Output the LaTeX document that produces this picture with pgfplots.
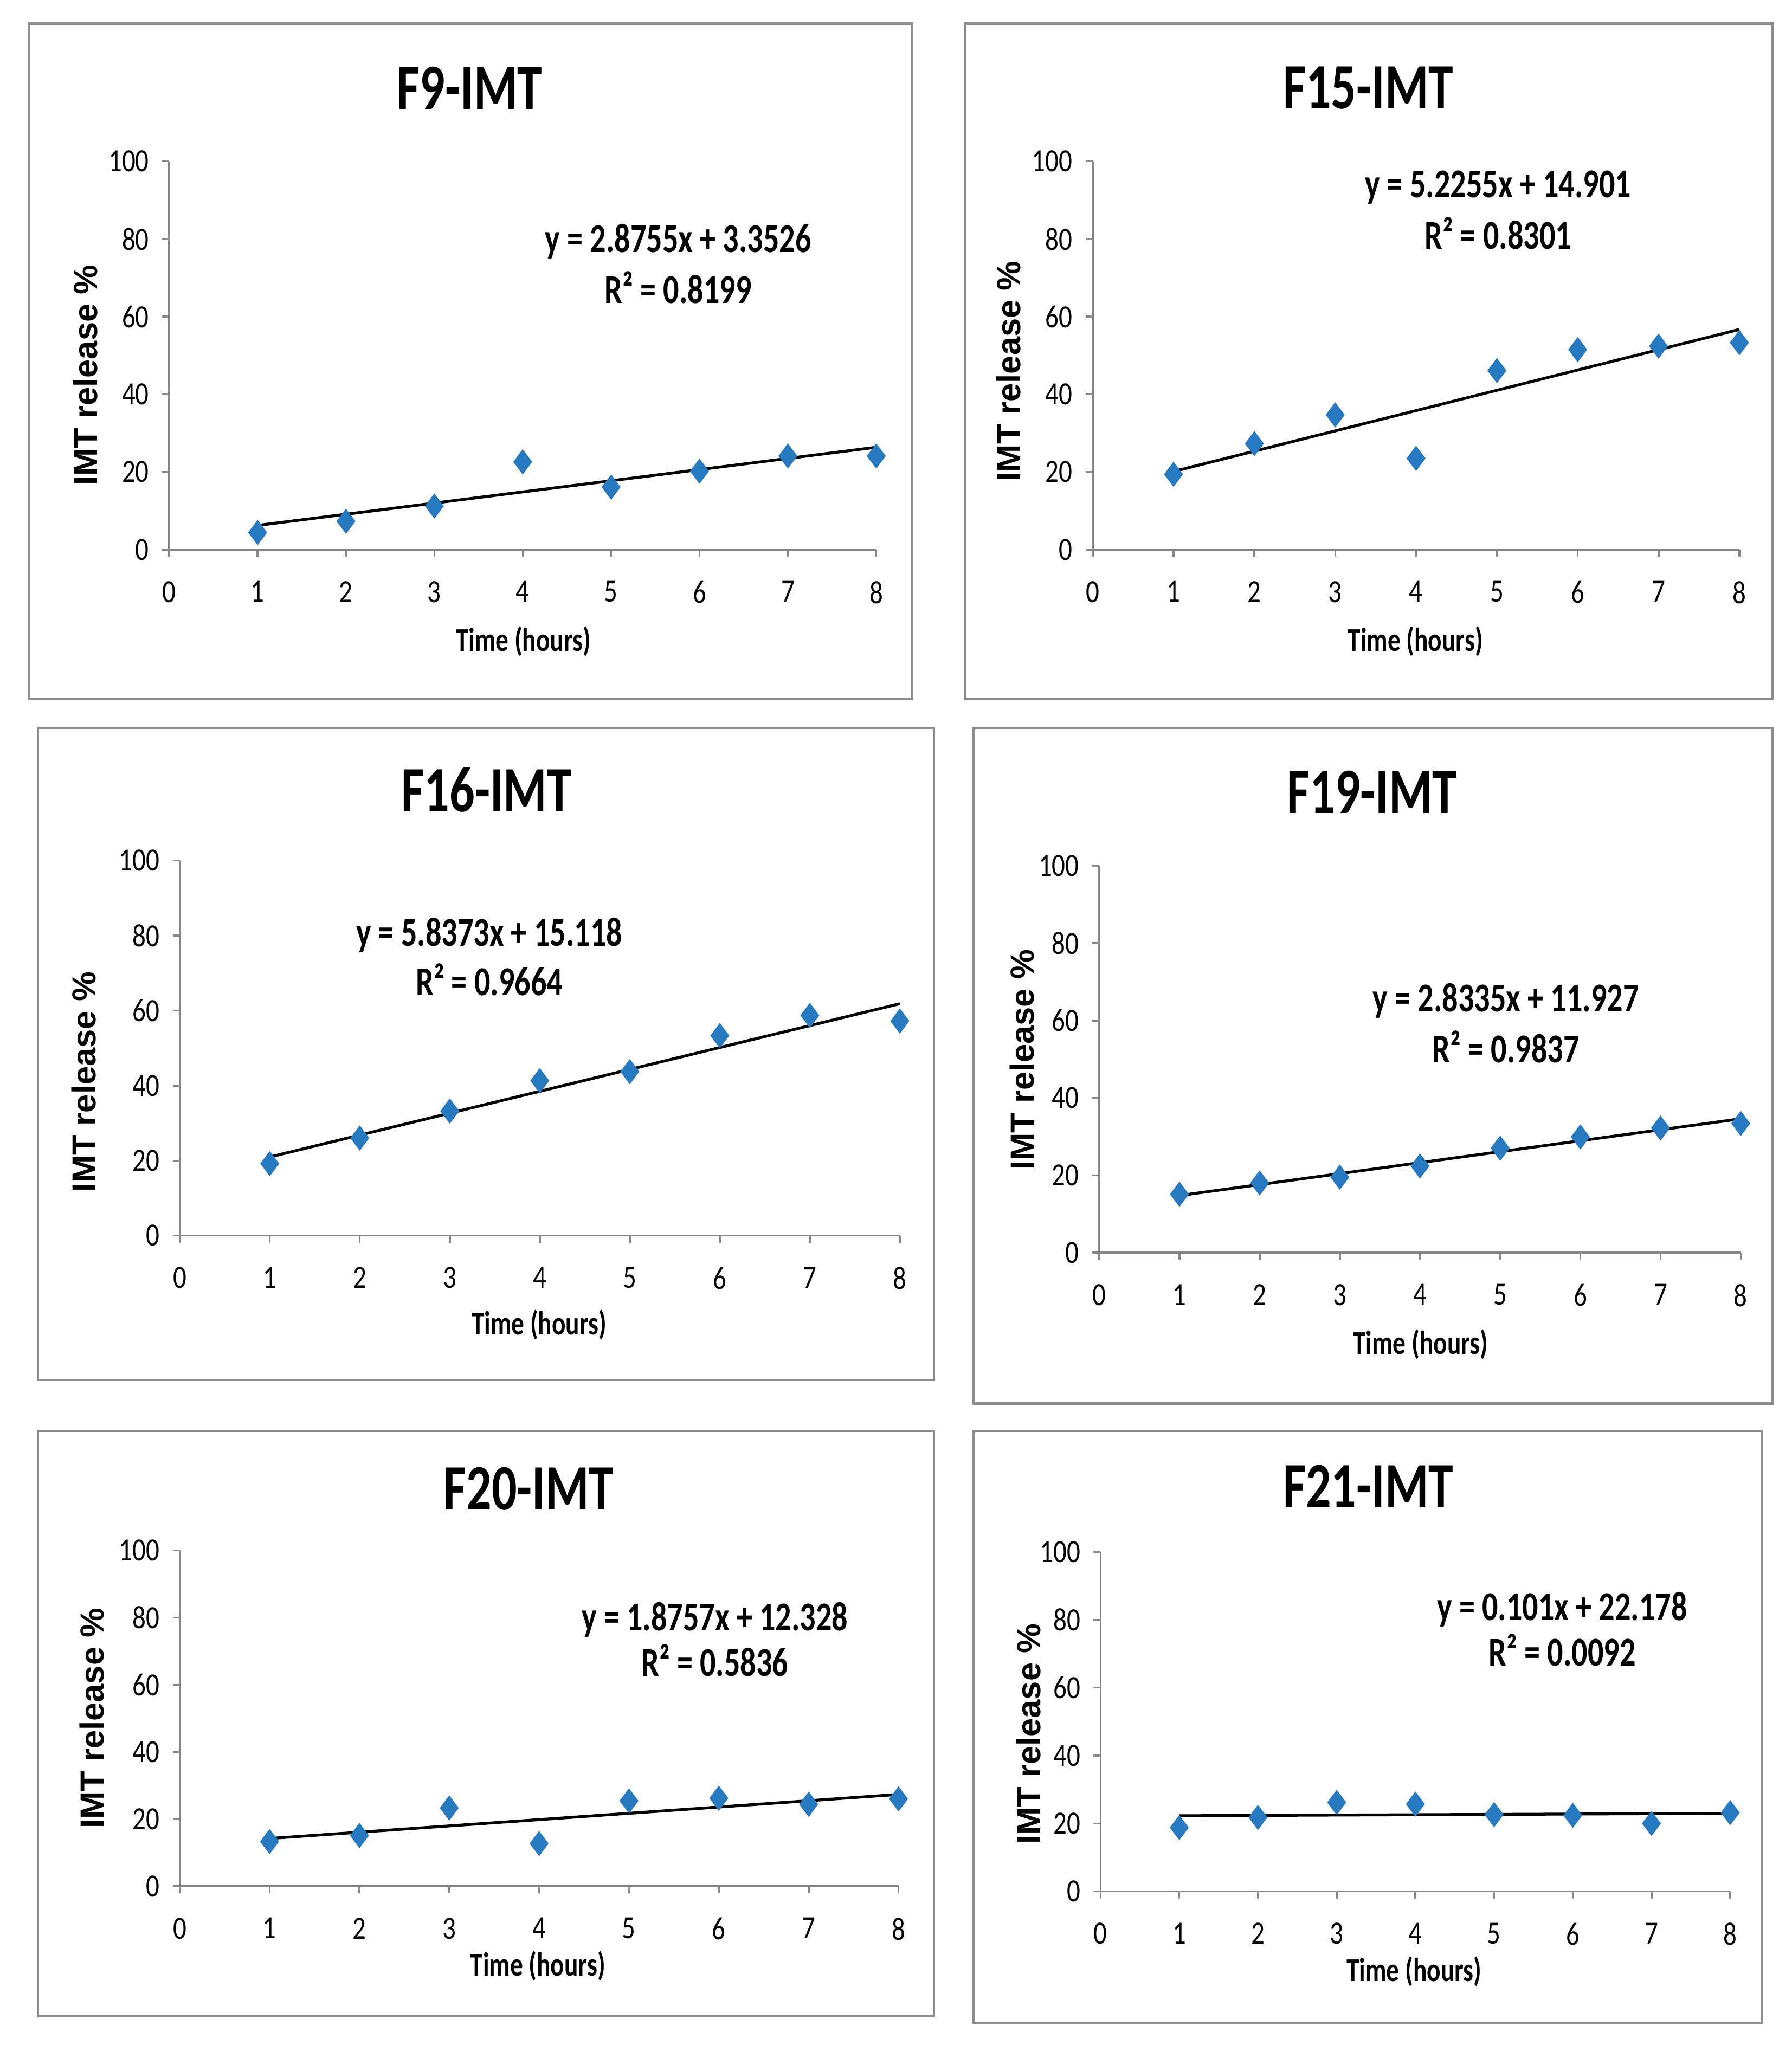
\documentclass[border=0pt]{standalone}
\usepackage{pgfplots}
\pgfplotsset{compat=1.18}
\usepackage{fontspec}
\setmainfont{Carlito}
\newfontfamily\tickfont[FakeStretch=0.82]{Carlito}
\newfontfamily\narrowfont[FakeStretch=0.77]{Carlito}
\newfontfamily\arialfont{Liberation Sans}
\definecolor{markblue}{RGB}{40,122,192}
\definecolor{axisgray}{RGB}{134,134,134}
\definecolor{framegray}{RGB}{140,140,140}
\newcommand\U{0.0242cm}

\pgfplotsset{
  imt/.style={
    scale only axis, anchor=south west,
    axis lines=left, axis line style={-, draw=axisgray, line width=1pt},
    xmin=0, xmax=8, ymin=0, ymax=100, enlargelimits=false,
    xtick={0,1,...,8}, ytick={0,20,...,100},
    tick style={draw=axisgray, line width=1pt},
    tick align=outside, major tick length=0.13cm,
    /pgf/number format/assume math mode=true,
    ticklabel style={font=\tickfont\fontsize{17}{18}\selectfont, text=black},
    xticklabel style={yshift=-0.33cm}, yticklabel style={xshift=-0.12cm},
    clip=false,
  },
  pts/.style={only marks, mark=diamond*, mark size=6.3pt, color=markblue},
  trend/.style={black, line width=1.5pt},
}
\tikzset{
  ttl/.style={font=\narrowfont\bfseries\fontsize{34}{34}\selectfont},
  eqn/.style={font=\narrowfont\bfseries\fontsize{21.5}{22}\selectfont},
  xlab/.style={font=\narrowfont\bfseries\fontsize{17.5}{18}\selectfont},
  ylab/.style={rotate=90, font=\arialfont\bfseries\fontsize{17.5}{18}\selectfont},
  frame/.style={draw=framegray, line width=1.2pt},
}

\begin{document}
\begin{tikzpicture}
\useasboundingbox (0,0) rectangle ({1366*\U},{-1569*\U});

% ---------- F9-IMT ----------
\draw[frame] ({22*\U},{-18*\U}) rectangle ({695*\U},{-533*\U});
\begin{axis}[imt, at={({129*\U},{-419*\U})}, width={539*\U}, height={296*\U}]
\addplot[pts] coordinates {(1,4.4) (2,7.3) (3,11.2) (4,22.6) (5,16.1) (6,20.2) (7,24.1) (8,24.1)};
\addplot[trend] coordinates {(1,6.2281) (8,26.3566)};
\end{axis}
\node[ttl] at ({358*\U},{-67*\U}) {F9-IMT};
\node[eqn] at ({517*\U},{-184*\U}) {y = 2.8755x + 3.3526};
\node[eqn] at ({517*\U},{-219*\U}) {R² = 0.8199};
\node[xlab] at ({399*\U},{-489*\U}) {Time (hours)};
\node[ylab] at ({65*\U},{-286*\U}) {IMT release \%};

% ---------- F15-IMT ----------
\draw[frame] ({736*\U},{-18*\U}) rectangle ({1351*\U},{-533*\U});
\begin{axis}[imt, at={({833*\U},{-419*\U})}, width={493*\U}, height={296*\U}]
\addplot[pts] coordinates {(1,19.4) (2,27.3) (3,34.7) (4,23.5) (5,46.1) (6,51.5) (7,52.4) (8,53.3)};
\addplot[trend] coordinates {(1,20.1265) (8,56.705)};
\end{axis}
\node[ttl] at ({1043*\U},{-67*\U}) {F15-IMT};
\node[eqn] at ({1142*\U},{-143*\U}) {y = 5.2255x + 14.901};
\node[eqn] at ({1142*\U},{-178*\U}) {R² = 0.8301};
\node[xlab] at ({1079*\U},{-489*\U}) {Time (hours)};
\node[ylab] at ({769*\U},{-283*\U}) {IMT release \%};

% ---------- F16-IMT ----------
\draw[frame] ({29*\U},{-555*\U}) rectangle ({712*\U},{-1052*\U});
\begin{axis}[imt, at={({137*\U},{-942*\U})}, width={549*\U}, height={286*\U}]
\addplot[pts] coordinates {(1,19.2) (2,26.0) (3,33.2) (4,41.3) (5,43.7) (6,53.3) (7,58.7) (8,57.2)};
\addplot[trend] coordinates {(1,20.9553) (8,61.8164)};
\end{axis}
\node[ttl] at ({371*\U},{-602*\U}) {F16-IMT};
\node[eqn] at ({373*\U},{-713*\U}) {y = 5.8373x + 15.118};
\node[eqn] at ({373*\U},{-747*\U}) {R² = 0.9664};
\node[xlab] at ({411*\U},{-1010*\U}) {Time (hours)};
\node[ylab] at ({64*\U},{-825*\U}) {IMT release \%};

% ---------- F19-IMT ----------
\draw[frame] ({742*\U},{-555*\U}) rectangle ({1351*\U},{-1070*\U});
\begin{axis}[imt, at={({838*\U},{-955*\U})}, width={489*\U}, height={295*\U}]
\addplot[pts] coordinates {(1,15.1) (2,18.0) (3,19.5) (4,22.4) (5,27.0) (6,29.9) (7,32.2) (8,33.4)};
\addplot[trend] coordinates {(1,14.7605) (8,34.595)};
\end{axis}
\node[ttl] at ({1046*\U},{-604*\U}) {F19-IMT};
\node[eqn] at ({1148*\U},{-763*\U}) {y = 2.8335x + 11.927};
\node[eqn] at ({1148*\U},{-798*\U}) {R² = 0.9837};
\node[xlab] at ({1083*\U},{-1025*\U}) {Time (hours)};
\node[ylab] at ({779*\U},{-808*\U}) {IMT release \%};

% ---------- F20-IMT ----------
\draw[frame] ({29*\U},{-1091*\U}) rectangle ({712*\U},{-1537*\U});
\begin{axis}[imt, at={({137*\U},{-1438*\U})}, width={548*\U}, height={256*\U}]
\addplot[pts] coordinates {(1,13.3) (2,15.1) (3,23.3) (4,12.7) (5,25.4) (6,26.2) (7,24.4) (8,26.0)};
\addplot[trend] coordinates {(1,14.2037) (8,27.3336)};
\end{axis}
\node[ttl] at ({403*\U},{-1135*\U}) {F20-IMT};
\node[eqn] at ({545*\U},{-1235*\U}) {y = 1.8757x + 12.328};
\node[eqn] at ({545*\U},{-1266*\U}) {R² = 0.5836};
\node[xlab] at ({410*\U},{-1499*\U}) {Time (hours)};
\node[ylab] at ({70*\U},{-1310*\U}) {IMT release \%};

% ---------- F21-IMT ----------
\draw[frame] ({742*\U},{-1091*\U}) rectangle ({1343*\U},{-1542*\U});
\begin{axis}[imt, at={({839*\U},{-1442*\U})}, width={480*\U}, height={259*\U}]
\addplot[pts] coordinates {(1,18.8) (2,21.8) (3,26.2) (4,25.7) (5,22.6) (6,22.4) (7,20.0) (8,23.2)};
\addplot[trend] coordinates {(1,22.279) (8,22.986)};
\end{axis}
\node[ttl] at ({1043*\U},{-1133*\U}) {F21-IMT};
\node[eqn] at ({1191*\U},{-1227*\U}) {y = 0.101x + 22.178};
\node[eqn] at ({1191*\U},{-1258*\U}) {R² = 0.0092};
\node[xlab] at ({1078*\U},{-1503*\U}) {Time (hours)};
\node[ylab] at ({784*\U},{-1322*\U}) {IMT release \%};
\end{tikzpicture}
\end{document}
